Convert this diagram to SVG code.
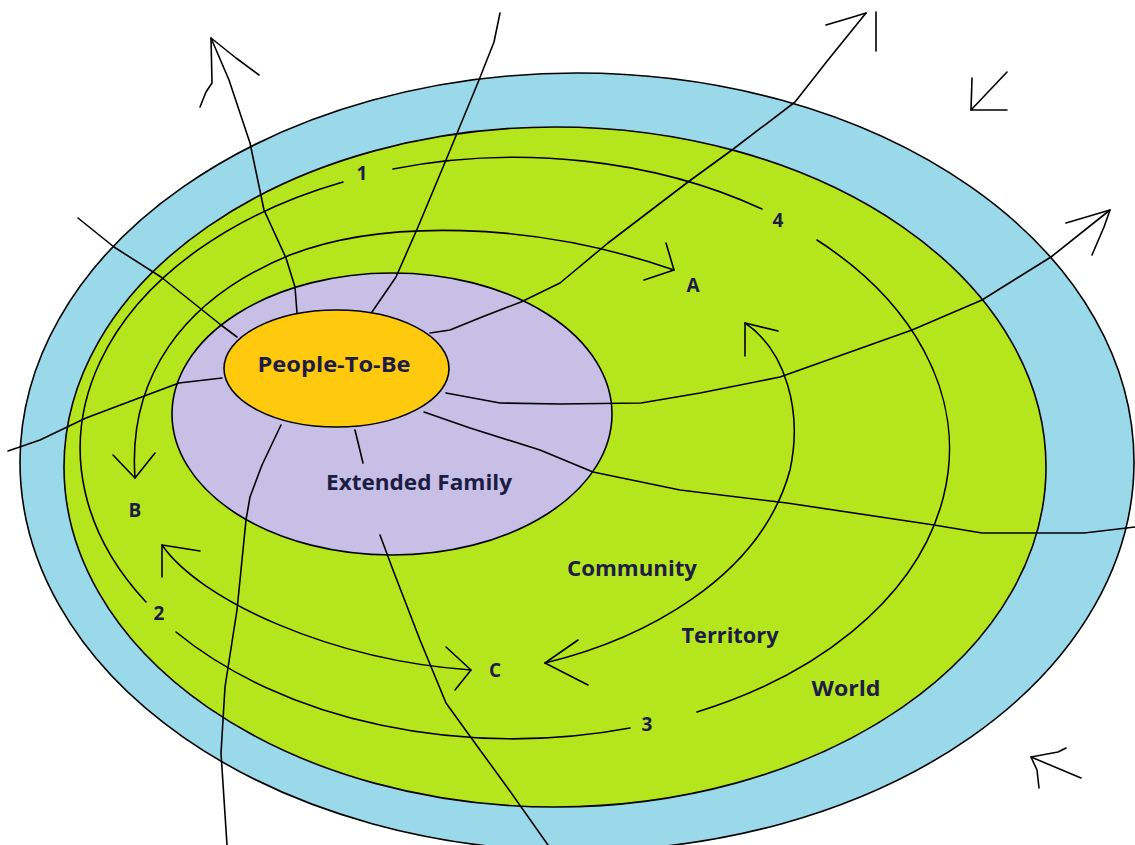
<svg xmlns="http://www.w3.org/2000/svg" width="1135" height="845" viewBox="0 0 1135 845">
<style>
.ring{stroke:#000;stroke-width:1.6}
.ln{fill:none;stroke:#000;stroke-width:1.6;stroke-linejoin:round;stroke-linecap:round}
.lbl{font-family:"Open Sans","Liberation Sans",sans-serif;font-weight:bold;font-size:22px;fill:#1c1c44;text-anchor:middle}
.sm{font-size:19px}
</style>
<rect width="1135" height="845" fill="#fff"/>
<g id="outer-ring"><ellipse class="ring" cx="577" cy="462" rx="557" ry="389" fill="#99d9ea"/></g>
<g id="green-zone">
<ellipse class="ring" cx="555" cy="467" rx="491" ry="340" fill="#b5e61d"/>
</g>
<g id="extended-family">
<ellipse class="ring" cx="392" cy="414" rx="220" ry="141" fill="#c8bfe7"/>
</g>
<g id="people-to-be">
<ellipse class="ring" cx="336.5" cy="368.5" rx="112.5" ry="58.5" fill="#ffc90e"/>
</g>
<g id="connectors">
<path class="ln" d="M393,169 A434,290 0 0 1 762,209"/>
<path class="ln" d="M817,240 A434,290 0 0 1 697,712"/>
<path class="ln" d="M630,728 A434,290 0 0 1 176,632"/>
<path class="ln" d="M146,602 A434,290 0 0 1 343,182"/>
<path class="ln" d="M135,478 C128,380 180,300 290,255 C380,220 530,220 674,270"/>
<polyline class="ln" points="666,243 674,270 644,280"/>
<polyline class="ln" points="113,455 135,478 155,453"/>
<path class="ln" d="M545,663 C640,640 760,580 790,470 C803,410 785,350 745,323"/>
<polyline class="ln" points="578,640 545,663 588,685"/>
<polyline class="ln" points="745,356 745,323 778,331"/>
<path class="ln" d="M162,545 C200,600 330,660 471,670"/>
<polyline class="ln" points="162,577 162,545 200,551"/>
<polyline class="ln" points="446,647 471,670 455,690"/>
<path class="ln" d="M297,313 L295,287 L286,258 L264,210 L250,143 L229,80 L211,38"/>
<polyline class="ln" points="200,107 206,92 212,83 211,38 236,58 259,75"/>
<path class="ln" d="M372,312 L396,277 L418,227 L446,160 L479,80 L494,42 L500,13"/>
<path class="ln" d="M430,333 L450,330 L482,317 L521,302 L560,283 L608,243 L688,182 L732,150 L795,102 L828,60 L866,13"/>
<polyline class="ln" points="826,25 853,17 866,13"/>
<line class="ln" x1="876" y1="12" x2="876" y2="51"/>
<path class="ln" d="M446,393 L500,403 L560,404 L641,403 L700,393 L780,377 L912,330 L982,300 L1051,257 L1110,210"/>
<polyline class="ln" points="1066,223 1110,210 1104,227 1092,255"/>
<path class="ln" d="M424,412 L470,428 L540,450 L593,472 L680,490 L787,503 L934,525 L982,533 L1084,533 L1135,527"/>
<line class="ln" x1="355" y1="430" x2="363" y2="463"/>
<path class="ln" d="M281,425 L262,465 L250,497 L246,520 L237,610 L225,687 L221,753 L227,845"/>
<path class="ln" d="M380,535 L393,570 L420,640 L446,703 L480,750 L507,787 L548,845"/>
<path class="ln" d="M222,378 L179,383 L139,398 L86,418 L40,440 L8,451"/>
<path class="ln" d="M237,337 L221,325 L161,277 L114,247 L78,218"/>
<polyline class="ln" points="1007,72 971,110 1007,110"/>
<line class="ln" x1="971" y1="110" x2="972" y2="78"/>
<polyline class="ln" points="1066,748 1058,752 1031,757 1081,778"/>
<polyline class="ln" points="1031,757 1037,770 1039,788"/>
</g>
<g id="labels">
<text class="lbl" x="334" y="372" textLength="153" lengthAdjust="spacingAndGlyphs">People-To-Be</text>
<text class="lbl" x="419" y="490" textLength="186" lengthAdjust="spacingAndGlyphs">Extended Family</text>
<text class="lbl" x="632" y="576" textLength="130" lengthAdjust="spacingAndGlyphs">Community</text>
<text class="lbl" x="730" y="643" textLength="97" lengthAdjust="spacingAndGlyphs">Territory</text>
<text class="lbl" x="846" y="696" textLength="69" lengthAdjust="spacingAndGlyphs">World</text>
<text class="lbl sm" x="362" y="180">1</text>
<text class="lbl sm" x="778" y="227">4</text>
<text class="lbl sm" x="693" y="292">A</text>
<text class="lbl sm" x="135" y="517">B</text>
<text class="lbl sm" x="159" y="620">2</text>
<text class="lbl sm" x="495" y="677">C</text>
<text class="lbl sm" x="647" y="731">3</text>
</g>
</svg>
